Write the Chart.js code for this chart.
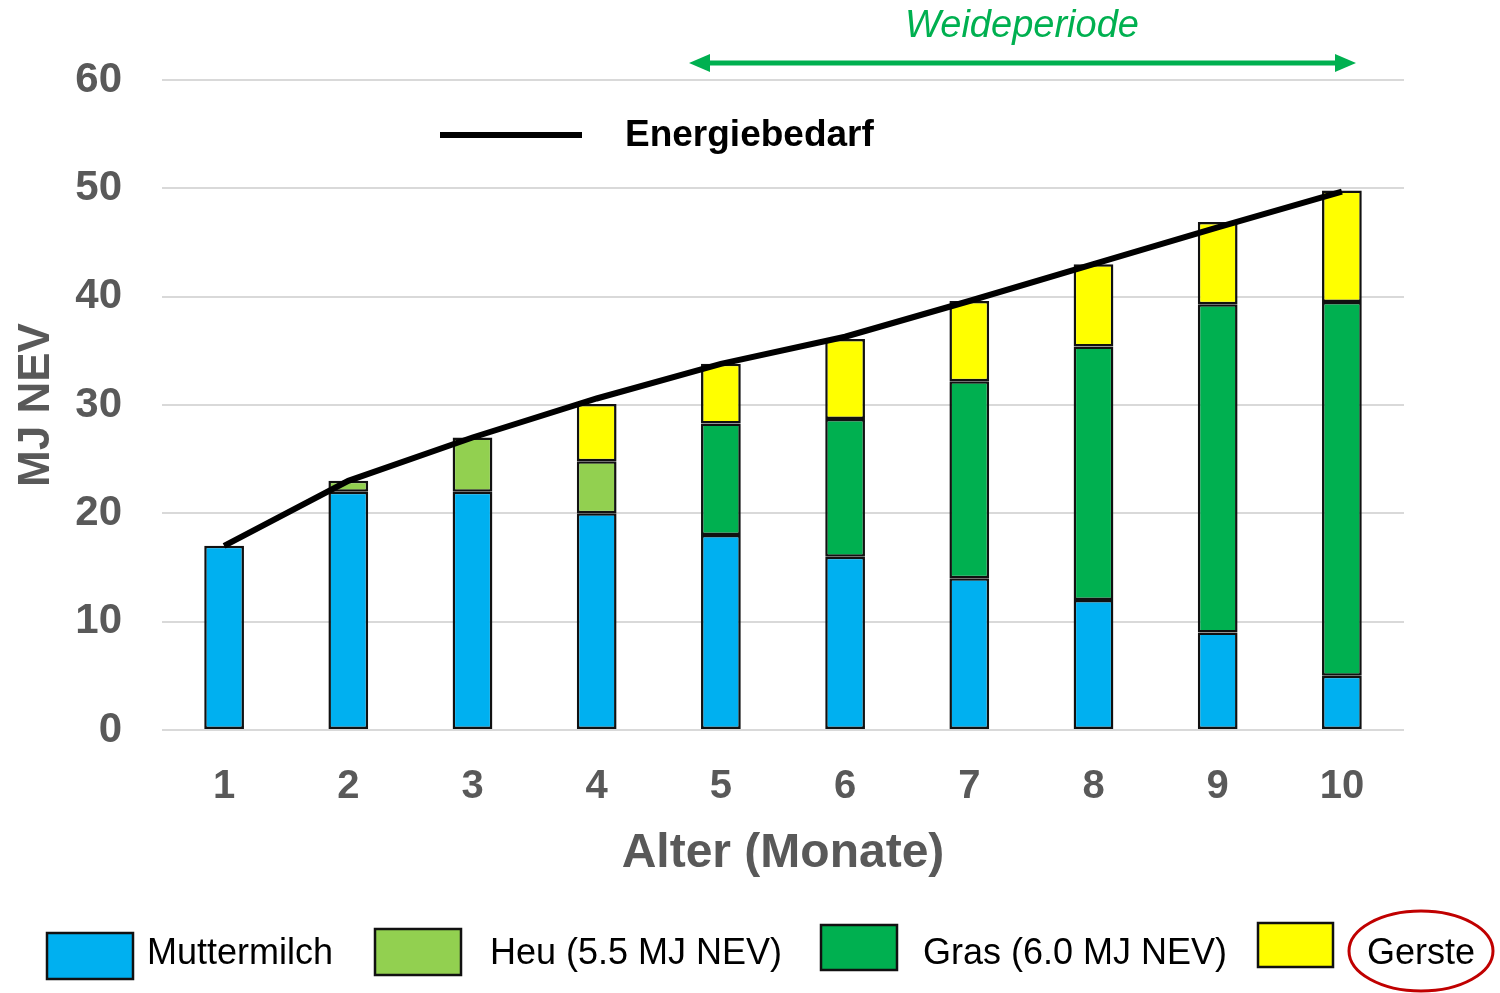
<!DOCTYPE html>
<html>
<head>
<meta charset="utf-8">
<script src="https://cdn.jsdelivr.net/npm/chart.js@4/dist/chart.umd.min.js"></script>
<style>
html,body{margin:0;padding:0;background:#fff;}
#wrap{width:1500px;height:993px;position:relative;}
</style>
</head>
<body>
<div id="wrap"><canvas id="c" width="1500" height="993"></canvas></div>
<script>
const months = ['1','2','3','4','5','6','7','8','9','10'];
const muttermilch = [17, 22, 22, 20, 18, 16, 14, 12, 9, 5];
const heu = [null, 1, 5, 4.8, null, null, null, null, null, null];
const gras = [null, null, null, null, 10.3, 12.7, 18.2, 23.4, 30.3, 34.5];
const gerste = [null, null, null, 5.3, 5.5, 7.4, 7.4, 7.6, 7.6, 10.3];
const energiebedarf = [17, 23, 27, 30.6, 33.8, 36.3, 39.6, 43, 46.4, 49.7];
const yTicks = [0, 10, 20, 30, 40, 50, 60];
const seriesNames = ['Muttermilch', 'Heu (5.5 MJ NEV)', 'Gras (6.0 MJ NEV)', 'Gerste', 'Energiebedarf'];
const colors = ['#00B0F0', '#92D050', '#00B050', '#FFFF00'];

const FONT = '"Liberation Sans", Arial, sans-serif';

const overlay = {
  id: 'overlay',
  afterDraw(chart) {
    const ctx = chart.ctx;
    ctx.save();
    // Energiebedarf legend
    ctx.strokeStyle = '#000';
    ctx.lineWidth = 6;
    ctx.beginPath(); ctx.moveTo(440, 135); ctx.lineTo(582, 135); ctx.stroke();
    ctx.fillStyle = '#000';
    ctx.font = 'bold 37px ' + FONT;
    ctx.textBaseline = 'middle';
    ctx.textAlign = 'left';
    ctx.fillText(seriesNames[4], 625, 136);

    // Weideperiode arrow
    const g = '#00B050';
    ctx.strokeStyle = g; ctx.fillStyle = g; ctx.lineWidth = 5;
    ctx.beginPath(); ctx.moveTo(700, 63); ctx.lineTo(1345, 63); ctx.stroke();
    ctx.beginPath(); ctx.moveTo(689, 63); ctx.lineTo(710, 54); ctx.lineTo(710, 72); ctx.closePath(); ctx.fill();
    ctx.beginPath(); ctx.moveTo(1356, 63); ctx.lineTo(1335, 54); ctx.lineTo(1335, 72); ctx.closePath(); ctx.fill();
    ctx.font = 'italic 38px ' + FONT;
    ctx.textAlign = 'center';
    ctx.fillText('Weideperiode', 1022, 26);

    // Bottom legend
    const items = [
      {box: [47, 933, 86, 46], tx: 147, ty: 954},
      {box: [375, 929, 86, 46], tx: 490, ty: 954},
      {box: [821, 925, 76, 45], tx: 923, ty: 954},
      {box: [1258, 923, 75, 44], tx: 1367, ty: 954}
    ];
    ctx.font = '36px ' + FONT;
    ctx.textAlign = 'left';
    items.forEach((it, i) => {
      ctx.fillStyle = colors[i];
      ctx.fillRect(it.box[0], it.box[1], it.box[2], it.box[3]);
      ctx.strokeStyle = '#111'; ctx.lineWidth = 2.5;
      ctx.strokeRect(it.box[0], it.box[1], it.box[2], it.box[3]);
      ctx.fillStyle = '#000';
      ctx.fillText(seriesNames[i], it.tx, it.ty);
    });
    // red ellipse round "Gerste"
    ctx.strokeStyle = '#C00000'; ctx.lineWidth = 3;
    ctx.beginPath(); ctx.ellipse(1421, 951, 72, 40, 0, 0, Math.PI * 2); ctx.stroke();
    ctx.restore();
  }
};

const barDs = (label, data, color) => ({
  type: 'bar', label, data, backgroundColor: color, borderColor: '#111',
  borderWidth: 2.5, borderSkipped: false, order: 1, stack: 's',
  barPercentage: 0.32, categoryPercentage: 1.0
});

new Chart(document.getElementById('c'), {
  data: {
    labels: months,
    datasets: [
      barDs(seriesNames[0], muttermilch, colors[0]),
      barDs(seriesNames[1], heu, colors[1]),
      barDs(seriesNames[2], gras, colors[2]),
      barDs(seriesNames[3], gerste, colors[3]),
      {type: 'line', label: seriesNames[4], data: energiebedarf, borderColor: '#000',
       borderWidth: 6, pointRadius: 0, tension: 0, order: 0, fill: false}
    ]
  },
  options: {
    responsive: false,
    animation: false,
    devicePixelRatio: 1,
    layout: {padding: {top: 80, right: 96, bottom: 106, left: 0}},
    plugins: {legend: {display: false}, tooltip: {enabled: false}},
    scales: {
      x: {
        stacked: true,
        grid: {display: false, drawTicks: false},
        border: {display: false},
        ticks: {color: '#595959', font: {family: FONT, size: 40, weight: 'bold'}, padding: 33},
        title: {display: true, text: 'Alter (Monate)', color: '#595959',
                font: {family: FONT, size: 48, weight: 'bold'}, padding: {top: 15}},
        afterFit(s) { s.height = 157; }
      },
      y: {
        stacked: true,
        min: 0, max: 60,
        afterBuildTicks(s) { s.ticks = yTicks.map(v => ({value: v})); },
        grid: {color: '#d9d9d9', lineWidth: 2, drawTicks: false},
        border: {display: false},
        ticks: {color: '#595959', font: {family: FONT, size: 42, weight: 'bold'}, padding: 40},
        title: {display: true, text: 'MJ NEV', color: '#595959',
                font: {family: FONT, size: 44, weight: 'bold'}, padding: {top: 10, bottom: 0}},
        afterFit(s) { s.width = 162; }
      }
    }
  },
  plugins: [overlay]
});
</script>
</body>
</html>
